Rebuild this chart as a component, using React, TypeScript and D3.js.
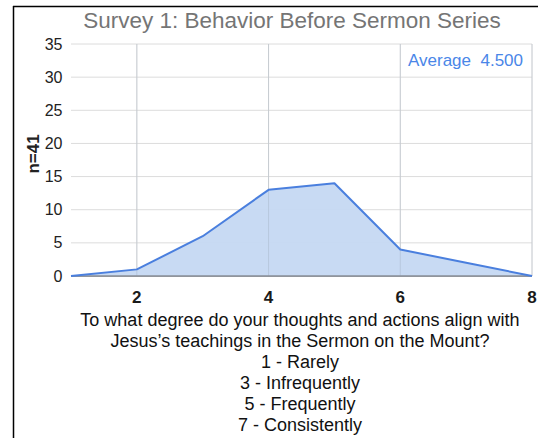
import React from "react";
import * as d3 from "d3";

const ratings = [1, 2, 3, 4, 5, 6, 7, 8];
const counts = [0, 1, 6, 13, 14, 4, 2, 0];
const yTicks = [0, 5, 10, 15, 20, 25, 30, 35];
const xTicks = [2, 4, 6, 8];
const titleText = "Survey 1: Behavior Before Sermon Series";
const yLabel = "n=41";
const averageLabel = "Average  4.500";
const xTitleLines = [
  "To what degree do your thoughts and actions align with",
  "Jesus\u2019s teachings in the Sermon on the Mount?",
  "1 - Rarely",
  "3 - Infrequently",
  "5 - Frequently",
  "7 - Consistently",
];

export default function App() {
  const W = 538;
  const H = 438;
  const font = "Arial, 'Liberation Sans', sans-serif";
  const x = d3.scaleLinear().domain([1, 8]).range([71, 532]);
  const y = d3.scaleLinear().domain([0, 35]).range([276, 44]);
  const pts = ratings.map((r, i) => ({ r, v: counts[i] }));
  const area = d3
    .area<{ r: number; v: number }>()
    .x((d) => x(d.r))
    .y0(y(0))
    .y1((d) => y(d.v));
  const line = d3
    .line<{ r: number; v: number }>()
    .x((d) => x(d.r))
    .y((d) => y(d.v));

  return (
    <svg
      width={W}
      height={H}
      style={{ position: "absolute", left: 0, top: 0, background: "#fff" }}
      fontFamily={font}
    >
      <rect x={0} y={0} width={W} height={H} fill="#fff" />
      <line x1={13.5} y1={6} x2={13.5} y2={H} stroke="#000" strokeWidth={1.5} />
      <line x1={13} y1={6.5} x2={W} y2={6.5} stroke="#000" strokeWidth={1.5} />
      <text x={292} y={28} textAnchor="middle" fontSize={22.5} fill="#757575">
        {titleText}
      </text>
      {yTicks.map((t) => (
        <g key={t}>
          <line x1={x(1)} x2={x(8)} y1={y(t)} y2={y(t)} stroke={t === 0 ? "#888" : "#dcdcdc"} strokeWidth={t === 0 ? 1.5 : 1} />
          <text x={62.5} y={y(t) + 5.5} textAnchor="end" fontSize={16} fill="#222">
            {t}
          </text>
        </g>
      ))}
      {xTicks.map((t) => (
        <g key={t}>
          <line x1={x(t)} x2={x(t)} y1={y(35)} y2={y(0)} stroke="#dcdcdc" strokeWidth={1} />
          <text x={x(t)} y={303} textAnchor="middle" fontSize={17} fontWeight="bold" fill="#1a1a1a">
            {t}
          </text>
        </g>
      ))}
      <path d={area(pts) || ""} fill="#c5d8f2" fillOpacity={0.95} />
      {xTicks.map((t) => (
        <line key={"g" + t} x1={x(t)} x2={x(t)} y1={y(35)} y2={y(0)} stroke="#9aa8ba" strokeOpacity={0.35} strokeWidth={1} />
      ))}
      <line x1={x(1)} x2={x(8)} y1={y(0)} y2={y(0)} stroke="#8a8f98" strokeWidth={1.5} />
      <path d={line(pts) || ""} fill="none" stroke="#4a7fde" strokeWidth={2} strokeLinejoin="round" />
      <text x={523} y={66} textAnchor="end" fontSize={17} fill="#4a86e8" xmlSpace="preserve" style={{ whiteSpace: "pre" }}>
        {averageLabel}
      </text>
      <text
        transform={`translate(39,154) rotate(-90)`}
        textAnchor="middle"
        fontSize={17}
        fontWeight="bold"
        fill="#222"
      >
        {yLabel}
      </text>
      {xTitleLines.map((l, i) => (
        <text key={i} x={300} y={326 + i * 21} textAnchor="middle" fontSize={18} fill="#111">
          {l}
        </text>
      ))}
    </svg>
  );
}
